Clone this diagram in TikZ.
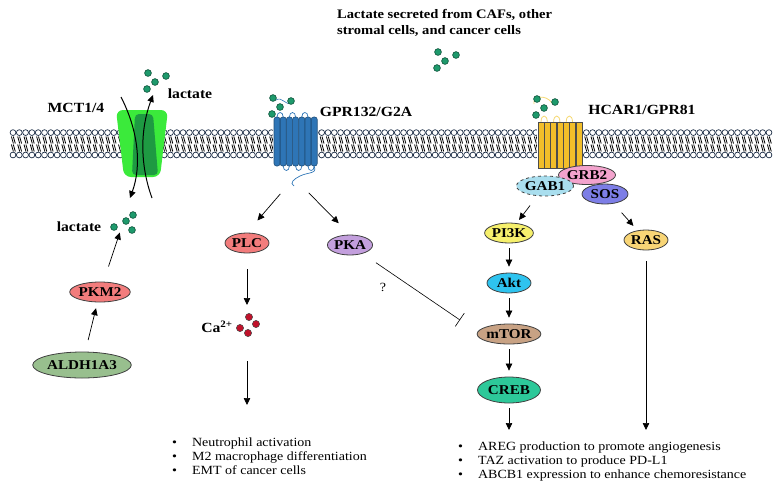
\documentclass[tikz,border=0pt]{standalone}
\usepackage{fontspec}
\setmainfont[FakeStretch=1.12]{Liberation Serif}
\usepackage{xcolor}
\usepackage{tikz}
\usetikzlibrary{shapes.geometric,positioning,arrows,arrows.meta}

\definecolor{lacgreen}{HTML}{1E9A6C}
\definecolor{lacedge}{HTML}{0B4F37}
\definecolor{mctlight}{HTML}{3BEA3B}
\definecolor{mctdark}{HTML}{1E9A42}
\definecolor{gprblue}{HTML}{2E75B6}
\definecolor{gpredge}{HTML}{1F4E79}
\definecolor{hcaryel}{HTML}{F2BE2A}
\definecolor{hcarloop}{HTML}{F5D870}
\definecolor{headedge}{HTML}{1B2C45}
\definecolor{caRed}{HTML}{C0122B}
\definecolor{plcred}{HTML}{F27C7C}
\definecolor{pkapurple}{HTML}{C39FDD}
\definecolor{aldhgreen}{HTML}{98BF8E}
\definecolor{gabcyan}{HTML}{A9DEEE}
\definecolor{grbpink}{HTML}{F3A3CD}
\definecolor{sosblue}{HTML}{7D7EE6}
\definecolor{pikyellow}{HTML}{F6F06C}
\definecolor{aktcyan}{HTML}{2EC3EF}
\definecolor{mtortan}{HTML}{C8A284}
\definecolor{crebgreen}{HTML}{2DC899}
\definecolor{rasyellow}{HTML}{F8D576}

\newcommand{\lacdots}[2]{%
  \foreach \dx/\dy in {0/0,18/3,7/9,-1/16}
    \draw[lacedge,fill=lacgreen,line width=.6pt] (#1+\dx,#2+\dy) circle (3.4pt);}

\begin{document}
\begin{tikzpicture}[x=1pt,y=-1pt,>={Triangle[length=7pt,width=6.5pt]},node distance=50pt,on grid]
        \tikzstyle{prot}=[ellipse,draw=black!75,thick,inner sep=0pt,minimum width=44pt,minimum height=20pt,font=\fontsize{13.5}{13.5}\selectfont\bfseries]
        \tikzstyle{lab}=[font=\fontsize{14}{16}\selectfont\bfseries]
        \tikzstyle{sig}=[->,line width=.7pt,shorten <=5pt,shorten >=6pt]
        \tikzstyle{outlist}=[anchor=north west,inner sep=0pt,font=\fontsize{12.5}{14}\selectfont]
        \useasboundingbox (0,0) rectangle (780,491);

        % membrane
        \foreach \x in {13,19.3,...,770}{
          \draw[line width=.8pt] (\x-1.6,136.5) -- (\x+.4,143.5) (\x+.3,136.5) -- (\x+2.3,143.5)
            (\x-1.6,144.5) -- (\x+.4,151.5) (\x+.3,144.5) -- (\x+2.3,151.5);
          \draw[headedge,fill=white,line width=.7pt] (\x,132.6) circle (2.9pt) (\x,155) circle (2.9pt);
        }

        % MCT1/4
        \fill[mctlight,rounded corners=7pt] (116,110) -- (168,110) -- (160,177) -- (124,177) -- cycle;
        \fill[mctdark,rounded corners=4pt] (135,114) -- (153,114) -- (158,175) -- (132,175) -- cycle;
        \coordinate (mcttopa) at (121,97);
        \coordinate (mctbota) at (130,198);
        \coordinate (mcttopb) at (153,95);
        \coordinate (mctbotb) at (152,198);
        \draw[->,line width=1pt] (mcttopa) .. controls (138,130) and (142,165) .. (mctbota);
        \draw[->,line width=1pt] (mctbotb) .. controls (140,165) and (140,130) .. (mcttopb);
        \lacdots{148}{73}
        \node[lab] (mctlab) at (76,108) {MCT1/4};
        \node[lab] (lacout) at (190,94) {lactate};

        % GPR132/G2A
        \fill[white] (273,116) rectangle (318,167);
        \foreach \i in {0,...,6}
          \draw[gpredge,fill=gprblue,rounded corners=2.5pt,line width=.6pt] (274+6.2*\i,117) rectangle ++(6,49);
        \foreach \i in {0,2,4}
          \draw[gprblue,line width=.7pt] (277+6.2*\i,117) .. controls (277+6.2*\i,111) and (283.2+6.2*\i,111) .. (283.2+6.2*\i,117);
        \foreach \i in {1,3,5}
          \draw[gprblue,line width=.7pt] (277+6.2*\i,166) .. controls (277+6.2*\i,172) and (283.2+6.2*\i,172) .. (283.2+6.2*\i,166);
        \draw[gprblue,line width=.7pt] (314,166) .. controls (318,174) and (308,172) .. (300,176) .. controls (294,179) and (289,183) .. (294,186);
        \draw[gprblue,line width=.6pt] (276,100) .. controls (282,96) and (286,106) .. (291,103);
        \lacdots{273}{98}
        \node[lab] (gprlab) at (366,112) {GPR132/G2A};
        \coordinate (gprsig) at (294,178);

        % HCAR1/GPR81
        \fill[white] (537,121) rectangle (583,169);
        \foreach \i in {0,2,4}
          \draw[hcarloop,line width=.8pt] (541+6.3*\i,122) .. controls (541+6.3*\i,114) and (547.3+6.3*\i,114) .. (547.3+6.3*\i,122);
        \foreach \i in {0,...,6}
          \draw[black!70,fill=hcaryel,line width=.6pt] (538+6.3*\i,122) rectangle ++(6.1,46);
        \draw[hcarloop,line width=.8pt] (534,104) .. controls (532,96) and (546,94) .. (552,103);
        \lacdots{537}{99}
        \node[lab] (hcarlab) at (642,110) {HCAR1/GPR81};

        % extracellular lactate
        \node[lab,align=left,anchor=west,inner sep=0pt,font=\fontsize{13}{16}\selectfont\bfseries] (srctxt) at (337,23) {Lactate secreted from CAFs, other\\stromal cells, and cancer cells};
        \lacdots{438}{52}

        % adaptor complex
        \node[prot,fill=grbpink,minimum width=52pt,minimum height=19pt] (grb) at (587,175) {GRB2};
        \node[prot,fill=gabcyan,dashed,minimum width=54pt] (gab) at (545,186) {GAB1};
        \node[prot,fill=sosblue,minimum width=46pt] (sos) at (605,194) {SOS};

        % HCAR1 pathway
        \node[prot,fill=pikyellow] (pik) at (509,233) {PI3K};
        \node[prot,fill=aktcyan] (akt) [below=50pt of pik] {Akt};
        \node[prot,fill=mtortan] (mtor) [below=51pt of akt] {mTOR};
        \node[prot,fill=crebgreen,minimum width=63pt,minimum height=26pt] (creb) [below=56pt of mtor] {CREB};
        \node[prot,fill=rasyellow] (ras) at (646,240) {RAS};
        \coordinate (creblow) at (509,430);
        \coordinate (raslow) at (646,430);

        % GPR132 pathway
        \node[prot,fill=plcred] (plc) at (247,243) {PLC};
        \node[prot,fill=pkapurple] (pka) at (350,245) {PKA};
        \node[lab] (ca) at (217,327) {Ca\textsuperscript{2+}};
        \coordinate (cadots) at (247,325);
        \foreach \cx/\cy in {249/317,256/324,240/328,248/333}
          \draw[black!70,fill=caRed,line width=.5pt] (\cx,\cy) circle (3.6pt);
        \coordinate (calow) at (247,405);
        \node[font=\fontsize{12.5}{14}\selectfont] (qm) at (383,287) {?};
        \coordinate (inh) at (460,320);

        % glycolysis side
        \node[prot,fill=aldhgreen,minimum width=79pt,minimum height=26pt] (aldh) at (82,365) {ALDH1A3};
        \node[prot,fill=plcred,minimum width=50pt] (pkm) at (100,292) {PKM2};
        \coordinate (lacin) at (123,223);
        \foreach \cx/\cy in {114/227,133/215,126/221,132/230}
          \draw[lacedge,fill=lacgreen,line width=.6pt] (\cx,\cy) circle (3.4pt);
        \node[lab] (laclab) at (79,227) {lactate};

        \path[sig]
        (gprsig) edge[shorten <=21pt,shorten >=16pt] (plc.north)
        (gprsig) edge[shorten <=21pt,shorten >=16pt] (pka.north)
        (plc) edge[shorten <=16pt,shorten >=20pt] (cadots)
        (cadots) edge[shorten <=36pt,shorten >=0pt] (calow)
        (aldh) edge[shorten <=12pt,shorten >=6pt] (pkm)
        (pkm) edge[shorten <=16pt,shorten >=10pt] (lacin)
        (gab) edge[shorten <=12pt,shorten >=4pt] (pik)
        (sos) edge[shorten <=12pt,shorten >=6pt] (ras)
        (pik) edge (akt)
        (akt) edge (mtor)
        (mtor) edge (creb)
        (creb) edge[shorten <=5pt,shorten >=0pt] (creblow)
        (ras) edge[shorten <=11pt,shorten >=0pt] (raslow);
        \draw[-{Bar[width=16pt]},line width=.6pt,shorten <=16pt] (pka) -- (inh);

        % outcomes
        \node[outlist] (gprout) at (172,436) {\begin{tabular}{@{}l@{\hspace{15pt}}l@{}}
          \textbullet & Neutrophil activation\\
          \textbullet & M2 macrophage differentiation\\
          \textbullet & EMT of cancer cells
        \end{tabular}};
        \node[outlist] (hcarout) at (458,440) {\begin{tabular}{@{}l@{\hspace{15pt}}l@{}}
          \textbullet & AREG production to promote angiogenesis\\
          \textbullet & TAZ activation to produce PD-L1\\
          \textbullet & ABCB1 expression to enhance chemoresistance
        \end{tabular}};
    \end{tikzpicture}
\end{document}
